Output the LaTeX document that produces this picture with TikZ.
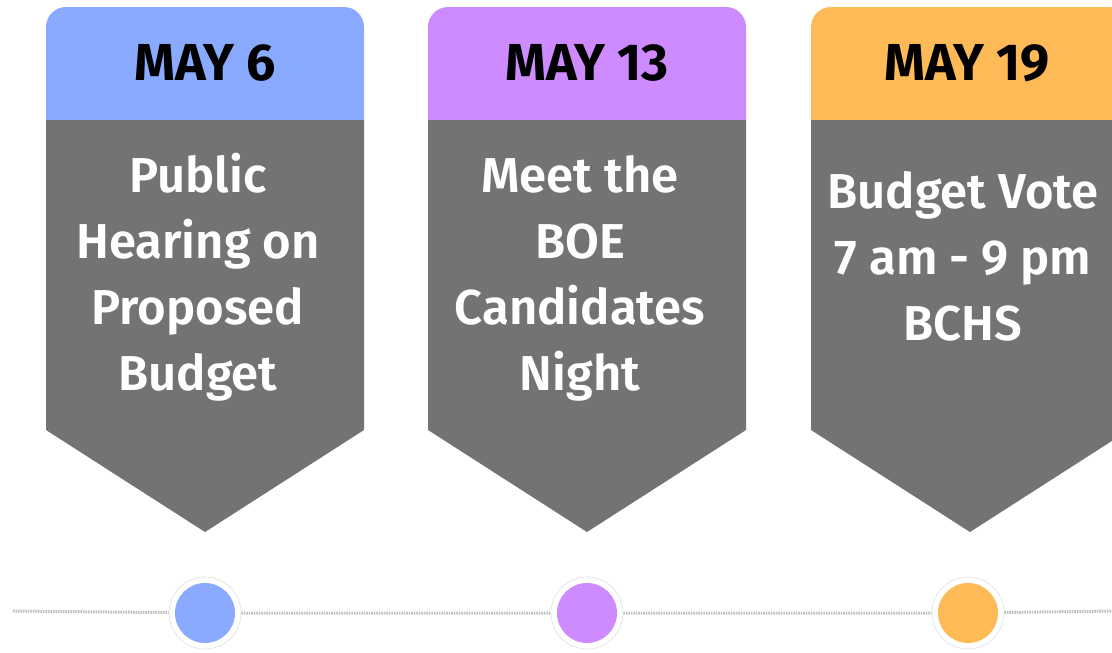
\documentclass[tikz,border=0pt]{standalone}
\usepackage{fontspec}
\setmainfont{Fira Sans}[UprightFont=* SemiBold, BoldFont=* Bold]
\usepackage{xcolor}
\usetikzlibrary{positioning}
\definecolor{maycardgray}{RGB}{115, 115, 115}
\definecolor{headblue}{RGB}{138, 170, 255}
\definecolor{headpurple}{RGB}{205, 139, 255}
\definecolor{headorange}{RGB}{253, 186, 86}
\definecolor{timelinegray}{RGB}{190, 190, 190}

\begin{document}
\begin{tikzpicture}[x=1pt, y=-1pt,
    datetext/.style={font=\fontsize{52}{60}\selectfont\bfseries, text=black, anchor=base, inner sep=0pt},
    eventtext/.style={font=\fontsize{49}{66}\selectfont, text=white, align=center, anchor=base, inner sep=0pt},
    dotring/.style={circle, fill=white, draw=black!12, line width=0.6pt, minimum size=72pt, inner sep=0pt},
    dotfill/.style={circle, minimum size=60pt, inner sep=0pt},
    timeline/.style={timelinegray, line width=3pt, dash pattern=on 1.5pt off 1pt}]
    \useasboundingbox (0,0) rectangle (1112,653);

    % Headers
    \fill[headblue, rounded corners=20pt] (46,140) rectangle (364,7);
    \fill[headpurple, rounded corners=20pt] (428,140) rectangle (746,7);
    \fill[headorange, rounded corners=20pt] (811,140) rectangle (1129,7);

    % Card bodies
    \fill[maycardgray] (46,120) -- (46,430) -- (205,532) -- (364,430) -- (364,120) -- cycle;
    \fill[maycardgray] (428,120) -- (428,430) -- (587,532) -- (746,430) -- (746,120) -- cycle;
    \fill[maycardgray] (811,120) -- (811,430) -- (970,532) -- (1129,430) -- (1129,120) -- cycle;

    % Dates
    \node[datetext] (may6) at (205,80) {MAY 6};
    \node[datetext] (may13) at (587,80) {MAY 13};
    \node[datetext] (may19) at (967,80) {MAY 19};

    % Events (anchored at the last line)
    \node[eventtext] (hearing) at (198,390) {Public\\Hearing on\\Proposed\\Budget};
    \node[eventtext] (boe) at (580,390) {Meet the\\BOE\\Candidates\\Night};
    \node[eventtext] (vote) at (963,340) {Budget Vote\\7 am - 9 pm\\BCHS};

    % Timeline
    \coordinate (tlstart) at (13,611);
    \coordinate (tlend) at (1112,611);
    \node[dotring] (dot1) at (205,613) {};
    \node[dotring] (dot2) at (587,613) {};
    \node[dotring] (dot3) at (968,613) {};
    \draw[timeline] (tlstart) -- (dot1) -- (dot2) -- (dot3) -- (tlend);
    \node[dotfill, fill=headblue] (dot1in) at (dot1) {};
    \node[dotfill, fill=headpurple] (dot2in) at (dot2) {};
    \node[dotfill, fill=headorange] (dot3in) at (dot3) {};
\end{tikzpicture}
\end{document}
